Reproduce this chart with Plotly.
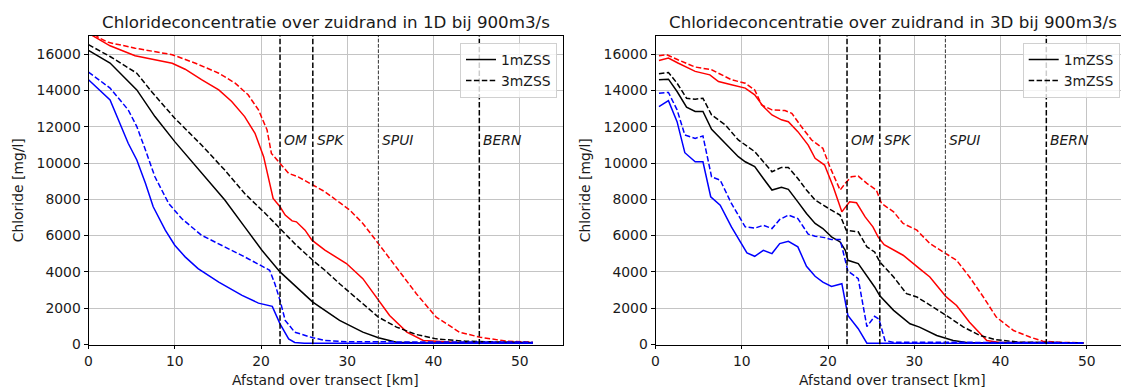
import plotly.graph_objects as go

# ---------------- data ----------------
# 1D panel
d1_red_solid_x = [0, 1.9, 2.5, 5.4, 7.3, 9.7, 11.2, 13.1, 15.1, 16.6, 18.1, 19.3, 20.3, 20.8, 21.4, 22.2, 22.8, 23.6, 24.1, 25.1, 25.9, 27.4, 29.9, 31.8, 33.6, 34.9, 36.9, 38.8, 42.3, 51.5]
d1_red_solid_y = [17150, 16610, 16460, 15910, 15730, 15500, 15170, 14590, 14030, 13390, 12560, 11640, 10350, 9240, 8050, 7590, 7130, 6810, 6760, 6300, 5750, 5200, 4460, 3630, 2430, 1600, 680, 220, 130, 100]
d1_red_dash_x = [0, 1.2, 2.3, 5.4, 9.7, 12.4, 15.1, 17.0, 18.5, 19.7, 20.7, 21.2, 22.2, 23.2, 24.3, 25.9, 27.4, 30.3, 31.8, 33.6, 35.7, 38.0, 40.3, 43.0, 45.4, 48.5, 51.5]
d1_red_dash_y = [17400, 16900, 16650, 16330, 15970, 15500, 14950, 14400, 13760, 12930, 11820, 10530, 9980, 9430, 9240, 8840, 8420, 7400, 6670, 5560, 4270, 2800, 1510, 680, 400, 180, 130]
d1_blk_solid_x = [0, 2.5, 5.6, 7.7, 10.0, 13.1, 15.8, 18.1, 20.1, 22.2, 23.9, 26.0, 27.4, 29.1, 31.8, 33.6, 35.7, 38.0, 51.5]
d1_blk_solid_y = [16210, 15510, 14030, 12560, 11180, 9430, 7960, 6480, 5190, 4000, 3260, 2340, 1880, 1330, 680, 370, 130, 90, 80]
d1_blk_dash_x = [0, 2.5, 5.6, 7.3, 10.0, 13.1, 15.8, 18.1, 20.5, 22.2, 23.9, 26.0, 27.4, 29.1, 31.4, 33.6, 35.7, 38.0, 40.3, 43.7, 51.5]
d1_blk_dash_y = [16520, 15870, 14950, 13940, 12470, 10990, 9610, 8320, 7220, 6390, 5560, 4640, 4090, 3350, 2430, 1510, 960, 550, 310, 180, 100]
d1_blu_solid_x = [0, 2.5, 4.6, 5.6, 6.6, 7.5, 8.9, 10.0, 11.2, 12.7, 15.1, 17.8, 19.7, 21.3, 22.2, 23.2, 23.9, 25.0, 51.5]
d1_blu_solid_y = [14590, 13480, 11090, 10170, 8880, 7590, 6300, 5470, 4830, 4180, 3440, 2710, 2280, 2100, 1140, 310, 110, 70, 70]
d1_blu_dash_x = [0, 2.5, 4.6, 5.6, 6.6, 7.7, 9.3, 10.8, 13.1, 15.8, 18.1, 21.0, 21.6, 22.2, 22.8, 23.9, 26.0, 27.4, 30.0, 51.5]
d1_blu_dash_y = [15010, 14130, 12930, 12010, 10720, 9240, 7770, 6940, 6020, 5380, 4830, 4090, 3350, 2430, 1330, 680, 370, 220, 150, 130]

# 3D panel
d3_red_solid_x = [0.4, 1.5, 2.6, 4.6, 6.3, 7.3, 8.8, 10.4, 11.5, 12.5, 13.5, 14.6, 15.4, 16.5, 17.7, 18.5, 19.6, 20.6, 21.6, 22.5, 23.3, 24.3, 25.2, 25.8, 26.5, 28.7, 30.6, 31.8, 33.7, 34.9, 36.4, 38.4, 39.9, 49.6]
d3_red_solid_y = [15650, 15780, 15510, 15050, 14860, 14490, 14310, 14130, 13760, 13110, 12650, 12380, 12280, 11730, 10990, 10260, 9890, 8690, 7310, 7860, 7810, 7030, 6480, 5930, 5500, 4920, 4180, 3720, 2620, 2150, 1230, 220, 110, 80]
d3_red_dash_x = [0.4, 1.3, 2.6, 4.6, 6.5, 7.7, 8.8, 10.4, 11.5, 12.3, 13.5, 15.0, 15.8, 16.9, 18.1, 19.4, 20.2, 21.4, 22.0, 22.7, 23.5, 24.5, 25.6, 26.2, 27.6, 28.7, 30.3, 31.8, 33.7, 34.9, 36.4, 38.0, 39.5, 41.5, 43.4, 44.9, 47.3, 49.6]
d3_red_dash_y = [15910, 15970, 15690, 15290, 15140, 14860, 14590, 14400, 14030, 13200, 12930, 12890, 12740, 12010, 11270, 10810, 9800, 8510, 8880, 9240, 9280, 8880, 8510, 7770, 7310, 6670, 6300, 5560, 5010, 4640, 3720, 2620, 1510, 770, 410, 180, 110, 100]
d3_blk_solid_x = [0.4, 1.5, 2.5, 3.6, 4.6, 5.5, 6.5, 8.1, 9.6, 10.4, 11.5, 12.5, 13.5, 14.6, 15.4, 16.5, 17.5, 18.5, 19.4, 20.4, 21.4, 22.0, 22.3, 23.5, 24.7, 25.4, 26.0, 27.6, 29.5, 30.6, 32.6, 34.5, 36.4, 49.6]
d3_blk_solid_y = [14590, 14620, 13940, 13080, 12840, 12840, 11860, 11090, 10350, 10070, 9800, 9150, 8510, 8660, 8550, 7860, 7220, 6670, 6390, 5930, 5650, 5190, 4640, 4460, 3630, 3170, 2680, 1880, 1140, 960, 500, 220, 90, 70]
d3_blk_dash_x = [0.4, 1.5, 2.5, 3.6, 4.6, 5.5, 6.5, 8.1, 9.6, 10.4, 11.5, 12.5, 13.5, 14.6, 15.4, 16.5, 17.5, 18.5, 19.4, 20.4, 21.4, 22.1, 23.5, 24.5, 25.4, 26.0, 27.6, 29.1, 30.3, 32.2, 33.7, 35.7, 37.6, 39.5, 42.2, 49.6]
d3_blk_dash_y = [14920, 14990, 14400, 13570, 13520, 13570, 12650, 12100, 11270, 10990, 10630, 10070, 9520, 9760, 9760, 9150, 8510, 7960, 7680, 7400, 7130, 6300, 6210, 5380, 5100, 4550, 3720, 2800, 2620, 2060, 1600, 960, 500, 260, 130, 90]
d3_blu_solid_x = [0.4, 1.5, 2.5, 3.4, 4.6, 5.5, 6.4, 7.5, 8.8, 10.6, 11.5, 12.5, 13.5, 14.4, 15.4, 16.5, 17.5, 18.5, 19.4, 20.4, 21.6, 22.3, 23.5, 24.5, 49.6]
d3_blu_solid_y = [13110, 13440, 12280, 10570, 10070, 10070, 8140, 7680, 6480, 5050, 4860, 5190, 5010, 5560, 5690, 5380, 4310, 3760, 3440, 3200, 3350, 1600, 870, 70, 70]
d3_blu_dash_x = [0.4, 1.5, 2.5, 3.4, 4.6, 5.5, 6.5, 7.5, 8.8, 10.4, 11.5, 12.5, 13.5, 14.4, 15.4, 16.5, 17.7, 18.5, 19.6, 20.4, 21.4, 22.3, 23.5, 24.5, 25.4, 25.9, 26.6, 27.5, 49.6]
d3_blu_dash_y = [13850, 13890, 12930, 11550, 11360, 11490, 9240, 9060, 7770, 6480, 6410, 6570, 6390, 6890, 7130, 6940, 6080, 5970, 5890, 5780, 5780, 4050, 3630, 990, 1550, 1400, 220, 130, 100]

stations = ["OM", "SPK", "SPUI", "BERN"]
station_km = [22.2, 26.0, 33.6, 45.3]

titles = ["Chlorideconcentratie over zuidrand in 1D bij 900m3/s",
          "Chlorideconcentratie over zuidrand in 3D bij 900m3/s"]
legend_labels = ["1mZSS", "3mZSS"]
x_ticks = [0, 10, 20, 30, 40, 50]
y_ticks = [0, 2000, 4000, 6000, 8000, 10000, 12000, 14000, 16000]

# ---------------- figure ----------------
W, H = 1121, 389
FONT = "DejaVu Sans"
TXT = "#1a1a1a"
DASH = "5.5px,2.4px"

fig = go.Figure()

panels = [
    ("x", "y", [(d1_red_solid_x, d1_red_solid_y, "red", "solid"),
                (d1_red_dash_x, d1_red_dash_y, "red", DASH),
                (d1_blk_solid_x, d1_blk_solid_y, "black", "solid"),
                (d1_blk_dash_x, d1_blk_dash_y, "black", DASH),
                (d1_blu_solid_x, d1_blu_solid_y, "blue", "solid"),
                (d1_blu_dash_x, d1_blu_dash_y, "blue", DASH)]),
    ("x2", "y2", [(d3_red_solid_x, d3_red_solid_y, "red", "solid"),
                  (d3_red_dash_x, d3_red_dash_y, "red", DASH),
                  (d3_blk_solid_x, d3_blk_solid_y, "black", "solid"),
                  (d3_blk_dash_x, d3_blk_dash_y, "black", DASH),
                  (d3_blu_solid_x, d3_blu_solid_y, "blue", "solid"),
                  (d3_blu_dash_x, d3_blu_dash_y, "blue", DASH)]),
]

for xa, ya, series in panels:
    for xs, ys, col, dash in series:
        fig.add_trace(go.Scatter(x=xs, y=ys, mode="lines", xaxis=xa, yaxis=ya,
                                 line=dict(color=col, width=1.5, dash=dash),
                                 showlegend=False, hoverinfo="skip"))
    # station lines
    for name, km in zip(stations, station_km):
        thin = name == "SPUI"
        fig.add_trace(go.Scatter(x=[km, km], y=[0, 17000], mode="lines", xaxis=xa, yaxis=ya,
                                 line=dict(color="#333333" if thin else "black",
                                           width=1.0 if thin else 1.5,
                                           dash="3.7px,1.6px" if thin else DASH),
                                 showlegend=False, hoverinfo="skip"))
        fig.add_annotation(x=km, y=11270, xref=xa, yref=ya, text="<i>%s</i>" % name,
                           showarrow=False, xanchor="left", yanchor="middle", xshift=2,
                           font=dict(family=FONT, size=13.9, color=TXT))
    # legend entries
    lg = "legend" if xa == "x" else "legend2"
    for lab, dash in zip(legend_labels, ["solid", DASH]):
        fig.add_trace(go.Scatter(x=[None], y=[None], mode="lines", xaxis=xa, yaxis=ya,
                                 line=dict(color="black", width=1.5, dash=dash),
                                 name=lab, legend=lg, showlegend=True))

ytop = 1 - 36 / H
ybot = 1 - 344.5 / H
x1d = [88.5 / W, 563 / W]
x2d = [655.5 / W, 1.0]
px_per_km = (563 - 88.5) / 55.0

axis_common = dict(showgrid=True, gridcolor="#c4c4c4", gridwidth=0.8,
                   zeroline=False, showline=True, linecolor="black", linewidth=0.9,
                   ticks="outside", ticklen=4, tickwidth=0.9, tickcolor="black",
                   tickfont=dict(family=FONT, size=13.9, color=TXT))

fig.update_layout(
    width=W, height=H, margin=dict(l=0, r=0, t=0, b=0, autoexpand=False),
    paper_bgcolor="white", plot_bgcolor="white",
    xaxis=dict(domain=x1d, range=[0, 55], tickvals=x_ticks, ticktext=[str(v) for v in x_ticks],
               anchor="y", mirror=True, **axis_common),
    yaxis=dict(domain=[ybot, ytop], range=[0, 17000], tickvals=y_ticks, ticktext=[str(v) for v in y_ticks],
               anchor="x", mirror=True, **axis_common),
    xaxis2=dict(domain=x2d, range=[0, (W - 655.5) / px_per_km], tickvals=x_ticks,
                ticktext=[str(v) for v in x_ticks], anchor="y2", mirror=True, **axis_common),
    yaxis2=dict(domain=[ybot, ytop], range=[0, 17000], tickvals=y_ticks, ticktext=[str(v) for v in y_ticks],
                anchor="x2", mirror=False, **axis_common),
    legend=dict(x=557 / W, y=1 - 43 / H, xanchor="right", yanchor="top",
                bgcolor="rgba(255,255,255,0.8)", bordercolor="#d0d0d0", borderwidth=1,
                font=dict(family=FONT, size=13.9, color=TXT), itemwidth=30,
                tracegroupgap=0),
    legend2=dict(x=1022.7 / W, y=1 - 43 / H, xanchor="left", yanchor="top",
                 bgcolor="rgba(255,255,255,0.8)", bordercolor="#d0d0d0", borderwidth=1,
                 font=dict(family=FONT, size=13.9, color=TXT), itemwidth=30,
                 tracegroupgap=0),
)

# titles and axis labels
for i, (xd, t) in enumerate(zip([x1d, x2d], titles)):
    cx = (xd[0] + (xd[0] + 474.5 / W)) / 2
    fig.add_annotation(x=cx, y=1 - 22 / H, xref="paper", yref="paper", text=t, showarrow=False,
                       xanchor="center", yanchor="middle", font=dict(family=FONT, size=16.7, color=TXT))
    fig.add_annotation(x=cx, y=1 - 380 / H, xref="paper", yref="paper", text="Afstand over transect [km]",
                       showarrow=False, xanchor="center", yanchor="middle",
                       font=dict(family=FONT, size=13.9, color=TXT))
    fig.add_annotation(x=(xd[0] * W - 70.5) / W, y=(ybot + ytop) / 2, xref="paper", yref="paper",
                       text="Chloride [mg/l]", textangle=-90, showarrow=False,
                       xanchor="center", yanchor="middle", font=dict(family=FONT, size=13.9, color=TXT))

fig.write_html("out.html")
